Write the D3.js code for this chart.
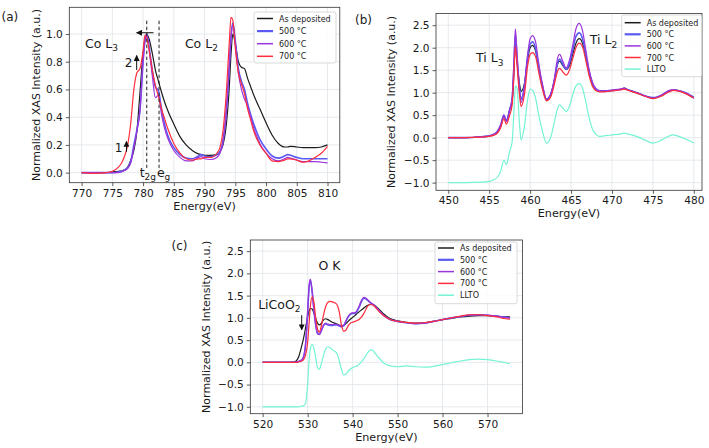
<!DOCTYPE html>
<html><head><meta charset="utf-8">
<script src="https://cdn.jsdelivr.net/npm/d3@7"></script>
<style>body{margin:0;background:#fff} svg{display:block} text{font-family:"DejaVu Sans",sans-serif;fill:#1a1a1a}</style>
</head><body><svg id="chart" width="709" height="448"></svg>
<script>
// ---------- DATA ----------
const seriesNames = ["As deposited", "500 °C", "600 °C", "700 °C", "LLTO"];

// Panel (a): Co L-edge
const energyA = [770,772,774,775,776, 776.5,777,777.5,778,778.5, 779,779.5,780,780.3,780.6, 781,781.5,782,782.5,783, 783.5,784,785,786,787, 788,789,789.5,790,791, 792,792.5,793,793.5,794, 794.3,794.6,795,795.5,796, 796.5,797,797.5,798,799, 800,801,802,803,803.5, 804,805,806,807,808, 809,810];
const coAsDep = [0,0,0,0.005,0.01, 0.012,0.02,0.04,0.09,0.16, 0.3,0.58,0.86,0.96,1.0, 0.96,0.86,0.74,0.66,0.58, 0.51,0.45,0.35,0.26,0.2, 0.16,0.135,0.13,0.125,0.125, 0.13,0.15,0.2,0.33,0.6, 0.85,1.0,0.93,0.8,0.76, 0.75,0.68,0.62,0.56,0.46, 0.36,0.27,0.21,0.185,0.185, 0.19,0.185,0.18,0.18,0.18, 0.185,0.2];
const co500 = [0,0,0,0,0.005, 0.01,0.02,0.035,0.08,0.2, 0.31,0.45,0.8,0.95,1.0, 0.9,0.74,0.62,0.59,0.46, 0.35,0.27,0.18,0.13,0.105, 0.1,0.12,0.13,0.12,0.115, 0.13,0.15,0.23,0.42,0.75, 0.98,1.08,0.95,0.75,0.66, 0.6,0.5,0.42,0.35,0.24, 0.17,0.12,0.105,0.12,0.13, 0.125,0.11,0.1,0.1,0.1, 0.1,0.1];
const co600 = [0,0,0,0,0, 0.005,0.015,0.03,0.07,0.18, 0.3,0.45,0.8,0.95,1.0, 0.88,0.7,0.54,0.56,0.42, 0.32,0.25,0.16,0.11,0.085, 0.085,0.11,0.115,0.1,0.095, 0.11,0.14,0.22,0.42,0.75, 0.97,1.07,0.93,0.72,0.6, 0.53,0.48,0.4,0.32,0.21, 0.14,0.1,0.085,0.1,0.11, 0.105,0.09,0.08,0.08,0.08, 0.075,0.07];
const co700 = [0,-0.005,0,0.01,0.04, 0.07,0.12,0.2,0.36,0.6, 0.72,0.75,0.88,0.99,0.97, 0.88,0.74,0.63,0.55,0.46, 0.39,0.32,0.21,0.14,0.1, 0.09,0.1,0.1,0.11,0.11, 0.14,0.18,0.3,0.55,0.92, 1.12,1.1,0.9,0.72,0.64, 0.57,0.46,0.38,0.3,0.2, 0.14,0.085,0.08,0.09,0.1, 0.1,0.09,0.075,0.085,0.11, 0.14,0.19];
const ticksXA = [770,775,780,785,790,795,800,805,810];
const ticksYA = [0,0.2,0.4,0.6,0.8,1.0];

// Panel (b): Ti L-edge
const energyB = [450,452,454,455,455.5, 456,456.4,456.8,457.1,457.5, 457.8,458.0,458.2,458.4,458.7, 458.9,459.3,459.7,460.0,460.3, 460.7,461.0,461.5,462.0,462.5, 463.0,463.3,463.6,464.0,464.4, 464.8,465.2,465.6,466.0,466.4, 466.8,467.2,467.6,468.0,468.5, 469,470,471,471.5,472, 473,474,475,476,477, 477.5,478,479,480];
const tiAsDep = [0,0,0.02,0.04,0.06, 0.12,0.25,0.48,0.38,0.62, 0.8,1.4,2.05,1.7,1.2, 1.03,1.2,1.75,2.0,2.05, 1.9,1.6,1.15,0.85,0.95, 1.3,1.6,1.7,1.6,1.52, 1.6,1.85,2.1,2.2,2.1, 1.8,1.45,1.2,1.08,1.03, 1.03,1.05,1.07,1.1,1.06, 1.0,0.93,0.88,0.93,1.03, 1.06,1.05,0.99,0.88];
const ti500 = [0,0,0.02,0.04,0.07, 0.14,0.28,0.5,0.36,0.62, 0.85,1.5,2.3,1.8,1.1, 0.85,1.15,1.8,2.08,2.13, 1.95,1.62,1.15,0.85,0.95, 1.3,1.62,1.75,1.63,1.52, 1.65,1.95,2.25,2.33,2.2, 1.85,1.48,1.22,1.08,1.04, 1.04,1.05,1.07,1.09,1.06, 1.0,0.93,0.89,0.94,1.04, 1.06,1.05,1.0,0.9];
const ti600 = [0,0,0.02,0.04,0.07, 0.14,0.28,0.5,0.36,0.62, 0.88,1.6,2.42,1.85,1.05, 0.78,1.1,1.85,2.2,2.27, 2.1,1.72,1.2,0.86,0.97, 1.35,1.72,1.85,1.7,1.55, 1.72,2.05,2.42,2.54,2.38, 1.95,1.52,1.24,1.1,1.04, 1.04,1.06,1.08,1.1,1.06, 1.0,0.93,0.88,0.94,1.05, 1.07,1.05,0.99,0.88];
const ti700 = [0,0,0.01,0.03,0.05, 0.1,0.22,0.42,0.3,0.5, 0.72,1.3,2.02,1.6,0.95, 0.69,0.95,1.6,1.85,1.89, 1.78,1.5,1.08,0.82,0.9, 1.22,1.45,1.54,1.46,1.39, 1.5,1.75,2.0,2.1,2.02, 1.72,1.38,1.15,1.05,1.02, 1.02,1.04,1.06,1.08,1.05, 0.99,0.92,0.87,0.92,1.02, 1.05,1.04,0.98,0.88];
const tiLLTO = [-1.0,-1.0,-0.99,-0.97,-0.94, -0.88,-0.75,-0.5,-0.6,-0.3, -0.1,0.5,1.15,1.1,0.3, -0.05,0.25,0.85,1.08,1.05, 0.85,0.55,0.15,-0.12,0.0, 0.38,0.62,0.73,0.66,0.58, 0.7,0.95,1.15,1.2,1.1, 0.8,0.45,0.2,0.08,0.03, 0.04,0.06,0.08,0.1,0.08, 0.03,-0.05,-0.12,-0.06,0.04, 0.06,0.04,-0.03,-0.12];
const ticksXB = [450,455,460,465,470,475,480];
const ticksYB = [-1.0,-0.5,0,0.5,1.0,1.5,2.0,2.5];

// Panel (c): O K-edge
const energyC = [520,524,526,527,527.5, 528,528.5,529,529.5,530, 530.3,530.6,531,531.4,531.8, 532.2,532.6,533,533.5,534, 534.5,535,535.5,536,536.5, 537,537.5,538,538.5,539, 539.5,540,540.5,541,541.5, 542,542.5,543,543.5,544, 544.5,545,546,547,548, 549,550,552,554,556, 558,560,562,564,566, 568,570,572,574,575];
const oAsDep = [0,0,0,0.01,0.04, 0.12,0.3,0.5,0.75,1.02, 1.15,1.21,1.2,1.1,0.98, 0.88,0.84,0.87,0.95,0.98, 0.96,0.93,0.9,0.88,0.86, 0.84,0.82,0.83,0.87,0.92, 0.97,1.01,1.05,1.1,1.14, 1.18,1.22,1.26,1.29,1.3, 1.3,1.27,1.18,1.08,1.0, 0.96,0.93,0.9,0.88,0.89, 0.92,0.96,0.99,1.02,1.04, 1.05,1.05,1.04,1.02,1.02];
const o500 = [0,0,0,0,0.01, 0.02,0.04,0.1,0.35,1.1, 1.65,1.85,1.6,1.2,0.85, 0.66,0.63,0.7,0.82,0.86, 0.84,0.83,0.83,0.84,0.84, 0.82,0.8,0.82,0.92,1.02, 1.08,1.1,1.1,1.15,1.25, 1.37,1.44,1.42,1.38,1.33, 1.3,1.26,1.15,1.05,0.98, 0.94,0.92,0.89,0.87,0.88, 0.92,0.96,1.0,1.03,1.06, 1.07,1.06,1.04,1.01,1.0];
const o600 = [0,0,0,0,0.01, 0.02,0.04,0.1,0.38,1.15, 1.7,1.87,1.58,1.15,0.82, 0.64,0.62,0.7,0.83,0.88, 0.86,0.85,0.85,0.86,0.85, 0.83,0.81,0.83,0.93,1.03, 1.09,1.11,1.11,1.17,1.28, 1.4,1.46,1.44,1.39,1.34, 1.31,1.27,1.15,1.05,0.98, 0.94,0.92,0.89,0.87,0.88, 0.92,0.96,1.0,1.03,1.06, 1.07,1.06,1.04,1.01,1.0];
const o700 = [0,0,0,0,0, 0.01,0.02,0.05,0.15,0.45, 0.85,1.25,1.47,1.35,1.0, 0.75,0.68,0.8,1.05,1.25, 1.35,1.37,1.36,1.34,1.3, 1.15,0.85,0.7,0.72,0.82, 0.88,0.9,0.92,0.94,0.97, 1.02,1.1,1.2,1.28,1.3, 1.29,1.24,1.13,1.04,0.98, 0.94,0.92,0.9,0.88,0.89, 0.92,0.96,1.0,1.04,1.07, 1.07,1.05,1.02,0.98,0.97];
const oLLTO = [-1.0,-1.0,-1.0,-1.0,-1.0, -1.0,-0.99,-0.98,-0.93,-0.5, 0.0,0.3,0.4,0.32,0.1, -0.12,-0.16,-0.05,0.15,0.3, 0.35,0.33,0.28,0.25,0.2, 0.05,-0.15,-0.28,-0.27,-0.2, -0.15,-0.12,-0.1,-0.08,-0.04, 0.02,0.08,0.16,0.24,0.28, 0.27,0.2,0.08,-0.02,-0.07, -0.09,-0.1,-0.08,-0.1,-0.11, -0.09,-0.05,-0.01,0.03,0.06, 0.07,0.06,0.03,-0.01,-0.03];
const ticksXC = [520,530,540,550,560,570];
const ticksYC = [-1.0,-0.5,0,0.5,1.0,1.5,2.0,2.5];

// ---------- STYLE ----------
const colors = ["#1c1c1c", "#5a5af2", "#9b35dc", "#ff2d3d", "#74f3d4"];
const widths = [1.2, 1.6, 1.2, 1.2, 1.2];
const gridColor = "#dfe4ea";

const svg = d3.select("#chart");
const defs = svg.append("defs");
defs.append("marker").attr("id","ah").attr("viewBox","0 0 10 10").attr("refX",9).attr("refY",5)
  .attr("markerWidth",6).attr("markerHeight",6).attr("markerUnits","userSpaceOnUse").attr("orient","auto")
  .append("path").attr("d","M0,0 L10,5 L0,10 z").attr("fill","#111");

let clipId = 0;
function panel(o) {
  const x = d3.scaleLinear().domain(o.xDomain).range([o.left, o.right]);
  const y = d3.scaleLinear().domain(o.yDomain).range([o.bottom, o.top]);
  const g = svg.append("g");
  const cid = "clip" + (clipId++);
  defs.append("clipPath").attr("id", cid).append("rect")
    .attr("x", o.left).attr("y", o.top).attr("width", o.right - o.left).attr("height", o.bottom - o.top);

  // grid
  g.append("g").selectAll("line").data(o.xTicks).join("line")
    .attr("x1", d => x(d)).attr("x2", d => x(d)).attr("y1", o.top).attr("y2", o.bottom)
    .attr("stroke", gridColor).attr("stroke-width", 0.8);
  g.append("g").selectAll("line").data(o.yTicks).join("line")
    .attr("y1", d => y(d)).attr("y2", d => y(d)).attr("x1", o.left).attr("x2", o.right)
    .attr("stroke", gridColor).attr("stroke-width", 0.8);

  // axes
  const xa = g.append("g").attr("transform", `translate(0,${o.bottom})`)
    .call(d3.axisBottom(x).tickValues(o.xTicks).tickSize(3.5).tickPadding(3).tickFormat(d3.format("d")));
  const ya = g.append("g").attr("transform", `translate(${o.left},0)`)
    .call(d3.axisLeft(y).tickValues(o.yTicks).tickSize(3.5).tickPadding(3).tickFormat(d3.format(".1f")));
  [xa, ya].forEach(a => {
    a.select(".domain").remove();
    a.selectAll(".tick line").attr("stroke", "#333").attr("stroke-width", 0.8);
    a.selectAll(".tick text").attr("font-size", 10.6).attr("fill", "#1a1a1a").style("font-family", "DejaVu Sans");
  });

  // lines
  const lg = g.append("g").attr("clip-path", `url(#${cid})`);
  o.series.forEach((vals, i) => {
    const pts = o.energy.map((e, k) => [e, vals[k]]);
    lg.append("path").datum(pts)
      .attr("fill", "none").attr("stroke", colors[i]).attr("stroke-width", widths[i])
      .attr("stroke-linejoin", "round")
      .attr("d", d3.line().x(d => x(d[0])).y(d => y(d[1])).curve(d3.curveMonotoneX));
  });

  // frame
  g.append("rect").attr("x", o.left).attr("y", o.top).attr("width", o.right - o.left).attr("height", o.bottom - o.top)
    .attr("fill", "none").attr("stroke", "#333").attr("stroke-width", 0.8);

  // labels
  g.append("text").attr("x", (o.left + o.right) / 2).attr("y", o.bottom + 27).attr("text-anchor", "middle")
    .attr("font-size", 11.2).text("Energy(eV)");
  g.append("text").attr("transform", `translate(${o.ylabX},${(o.top + o.bottom) / 2}) rotate(-90)`)
    .attr("text-anchor", "middle").attr("font-size", 11).text("Normalized XAS Intensity (a.u.)");
  g.append("text").attr("x", o.tagX).attr("y", o.tagY).attr("font-size", 12).text(o.tag);

  // legend
  const n = o.series.length;
  const L = o.legend;
  g.append("rect").attr("x", L.x).attr("y", L.y).attr("width", L.w).attr("height", L.h).attr("rx", 2)
    .attr("fill", "#fff").attr("fill-opacity", 0.85).attr("stroke", "#cfcfcf").attr("stroke-width", 0.8);
  for (let i = 0; i < n; i++) {
    const yy = L.y + L.first + i * L.step;
    g.append("line").attr("x1", L.x + 3).attr("x2", L.x + 19).attr("y1", yy).attr("y2", yy)
      .attr("stroke", colors[i]).attr("stroke-width", i === 1 ? 2.2 : 1.5);
    g.append("text").attr("x", L.x + 25).attr("y", yy + 3).attr("font-size", 8).text(seriesNames[i]);
  }
  return {x, y, g};
}

function sub(g, px, py, subs, size) {
  const t = g.append("text").attr("x", px).attr("y", py).attr("font-size", size);
  subs.forEach(s => {
    t.append("tspan").text(s[0]);
    if (s[1]) t.append("tspan").attr("font-size", size * 0.72).attr("dy", size * 0.28).text(s[1]);
  });
  return t;
}

function arrow(g, x1, y1, x2, y2) {
  g.append("line").attr("x1", x1).attr("y1", y1).attr("x2", x2).attr("y2", y2)
    .attr("stroke", "#111").attr("stroke-width", 1).attr("marker-end", "url(#ah)");
}

// ---------- PANEL A ----------
const A = panel({
  energy: energyA, series: [coAsDep, co500, co600, co700],
  xDomain: [768, 812], yDomain: [-0.0725, 1.1925],
  left: 69.3, right: 339.8, top: 7.3, bottom: 182.7,
  xTicks: ticksXA, yTicks: ticksYA, ylabX: 39.5, tag: "(a)", tagX: 1.5, tagY: 20.5,
  legend: {x: 254, y: 12, w: 82, h: 51, first: 6.5, step: 12.6}
});
[780.6, 782.6].forEach(e => {
  A.g.append("line").attr("x1", A.x(e)).attr("x2", A.x(e)).attr("y1", A.y(1.096)).attr("y2", A.y(0.034))
    .attr("stroke", "#222").attr("stroke-width", 1).attr("stroke-dasharray", "3.5,2.5");
});
arrow(A.g, A.x(781.7), A.y(1.009), A.x(778.95), A.y(1.009));
arrow(A.g, A.x(778.96), A.y(0.74), A.x(778.96), A.y(0.845));
arrow(A.g, A.x(777.3), A.y(0.15), A.x(777.3), A.y(0.225));
A.g.append("text").attr("x", A.x(777.0)).attr("y", A.y(0.764)).attr("font-size", 12).text("2");
A.g.append("text").attr("x", A.x(775.4)).attr("y", A.y(0.151)).attr("font-size", 12).text("1");
sub(A.g, A.x(770.55), A.y(0.9), [["Co L", "3"]], 12.5);
sub(A.g, A.x(786.8), A.y(0.9), [["Co L", "2"]], 12.5);
sub(A.g, A.x(779.45), A.y(-0.03), [["t", "2g"]], 12.5);
sub(A.g, A.x(782.25), A.y(-0.03), [["e", "g"]], 12.5);

// ---------- PANEL B ----------
const B = panel({
  energy: energyB, series: [tiAsDep, ti500, ti600, ti700, tiLLTO],
  xDomain: [448.5, 481.0], yDomain: [-1.17, 2.76],
  left: 436, right: 702, top: 13.5, bottom: 190.3,
  xTicks: ticksXB, yTicks: ticksYB, ylabX: 394.5, tag: "(b)", tagX: 355, tagY: 23.5,
  legend: {x: 621.7, y: 15, w: 80, h: 61.7, first: 7.7, step: 11.6}
});
sub(B.g, B.x(453.4), B.y(1.68), [["Ti L", "3"]], 12.5);
sub(B.g, B.x(467.3), B.y(2.08), [["Ti L", "2"]], 12.5);

// ---------- PANEL C ----------
const C = panel({
  energy: energyC, series: [oAsDep, o500, o600, o700, oLLTO],
  xDomain: [517.25, 577.75], yDomain: [-1.155, 2.75],
  left: 250.3, right: 522.4, top: 240, bottom: 413.7,
  xTicks: ticksXC, yTicks: ticksYC, ylabX: 209.5, tag: "(c)", tagX: 171.5, tagY: 250,
  legend: {x: 435, y: 242, w: 82, h: 61.7, first: 6, step: 11.8}
});
C.g.append("text").attr("x", C.x(532.4)).attr("y", C.y(2.075)).attr("font-size", 12.5).text("O K");
sub(C.g, C.x(519.0), C.y(1.2), [["LiCoO", "2"]], 12.5);
arrow(C.g, C.x(528.68), C.y(1.06), C.x(528.68), C.y(0.73));
</script></body></html>
